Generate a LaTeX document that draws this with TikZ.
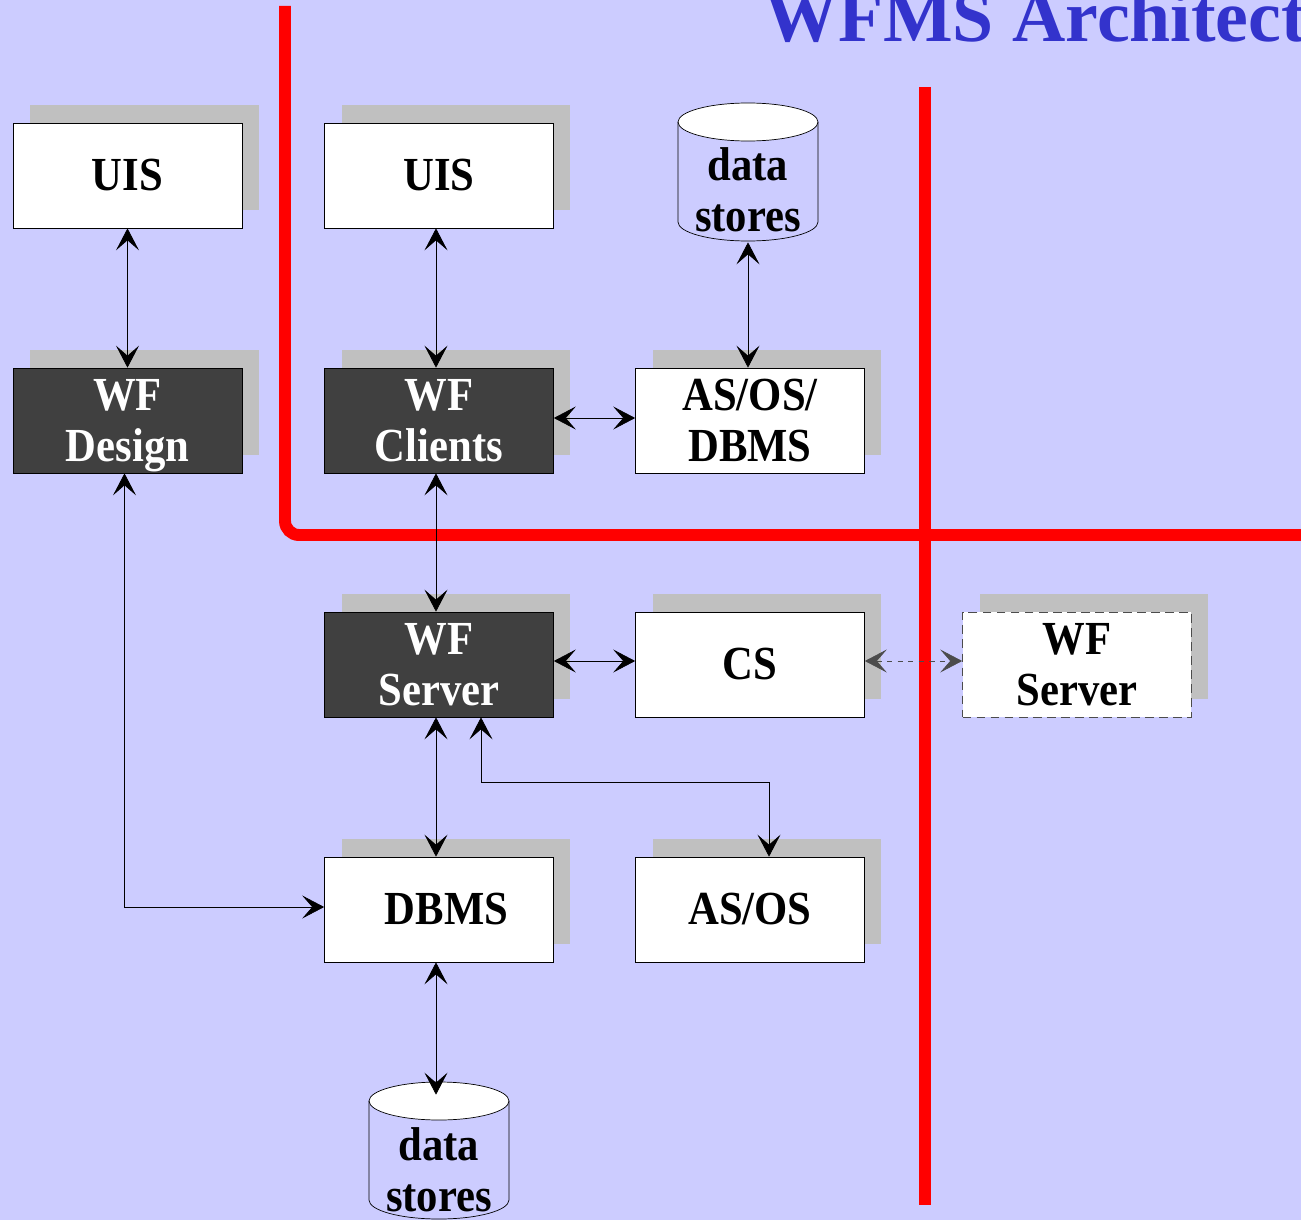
\documentclass[tikz,border=0pt]{standalone}
\usepackage{fontspec}
\setmainfont{Liberation Serif}[FakeStretch=0.9]
\newfontfamily\titrefont{Liberation Serif}
\usetikzlibrary{arrows.meta,shadows}
\definecolor{bgblue}{HTML}{CCCCFF}
\definecolor{boxshade}{HTML}{C0C0C0}
\definecolor{darkbox}{HTML}{404040}
\definecolor{titleblue}{HTML}{3333CC}
\begin{document}
\begin{tikzpicture}[x=0.02cm,y=-0.02cm]
        \tikzstyle{blok}=[rectangle,draw,thin,fill=white,minimum width=4.58cm,minimum height=2.1cm,
            align=center,font=\fontsize{27}{29}\selectfont\bfseries,
            general shadow={fill=boxshade,shadow xshift=0.34cm,shadow yshift=0.36cm}]
        \tikzstyle{sombre}=[blok,fill=darkbox,text=white]
        \tikzstyle{fleche}=[thin,{Stealth[length=0.44cm,width=0.46cm,inset=0.2cm]}-{Stealth[length=0.44cm,width=0.46cm,inset=0.2cm]}]
        \tikzstyle{mur}=[red,line width=6.8pt]
        \tikzstyle{txt}=[align=center,font=\fontsize{27}{29}\selectfont\bfseries]
        \clip (0,0) rectangle (1301,1220);
        \fill[bgblue] (0,0) rectangle (1301,1220);
        % titre
        \node[anchor=base west,text=titleblue,font=\titrefont\fontsize{42}{44}\selectfont\bfseries,inner sep=0pt] (titre) at (764,42) {WFMS Architecture};
        % murs
        \draw[mur,rounded corners=8pt] (285,6) -- (285,535) -- (1320,535);
        \draw[mur] (925,87) -- (925,1205);
        % boites
        \node[blok] (uisd) at (127.5,175.5) {UIS};
        \node[blok] (uisc) at (439,175.5) {UIS};
        \node[sombre,text depth=0pt] (wfd) at (127.5,420.5) {WF\\Design};
        \node[sombre] (wfc) at (439,420.5) {WF\\Clients};
        \node[blok] (asosdb) at (750,420.5) {AS/OS/\\DBMS};
        \node[sombre] (wfs) at (439,664.5) {WF\\Server};
        \node[blok] (cs) at (750,664.5) {CS};
        \node[blok,dashed,draw=black!70,dash pattern=on 5pt off 3pt] (wfsr) at (1077,664.5) {WF\\Server};
        \node[blok] (dbms) at (439,909.5) {\hspace{0.3cm}DBMS};
        \node[blok] (asos) at (750,909.5) {AS/OS};
        % data stores
        \fill[white] (748,122) ellipse [x radius=1.4cm,y radius=0.38cm];
        \draw[thin] (748,122) ellipse [x radius=1.4cm,y radius=0.38cm];
        \draw[thin] (678,122) -- (678,222) arc[start angle=180,end angle=360,x radius=1.4cm,y radius=0.38cm] -- (818,122);
        \node[txt,minimum width=2.8cm,minimum height=2.08cm] (dsa) at (748,190) {data\\stores};
        \fill[white] (439,1101) ellipse [x radius=1.4cm,y radius=0.38cm];
        \draw[thin] (439,1101) ellipse [x radius=1.4cm,y radius=0.38cm];
        \draw[thin] (369,1101) -- (369,1200) arc[start angle=180,end angle=360,x radius=1.4cm,y radius=0.38cm] -- (509,1101);
        \node[txt,minimum width=2.8cm,minimum height=3cm] (dsb) at (439,1170) {data\\stores};
        % liens
        \draw[fleche] (uisd) -- (wfd);
        \draw[fleche] ([xshift=-0.06cm]uisc.south) -- ([xshift=-0.06cm]wfc.north);
        \draw[fleche] (dsa.south) -- (dsa.south |- asosdb.north);
        \draw[fleche] (wfc.east |- 0,418) -- (asosdb.west |- 0,418);
        \draw[fleche] ([xshift=-0.06cm]wfc.south) -- ([xshift=-0.06cm]wfs.north);
        \draw[fleche] (wfs.east |- 0,661) -- (cs.west |- 0,661);
        \draw[fleche,dashed,draw=black!70] (cs.east |- 0,661) -- (wfsr.west |- 0,661);
        \draw[fleche] ([xshift=-0.06cm]wfs.south) -- ([xshift=-0.06cm]dbms.north);
        \draw[fleche] ([xshift=0.84cm]wfs.south) -- ++(0,65) -| ([xshift=0.38cm]asos.north);
        \draw[fleche] ([xshift=-0.06cm]wfd.south) |- (dbms.west |- 0,907);
        \draw[fleche] ([xshift=-0.06cm]dbms.south) -- ([xshift=-0.06cm]dsb.north);
    \end{tikzpicture}
\end{document}
